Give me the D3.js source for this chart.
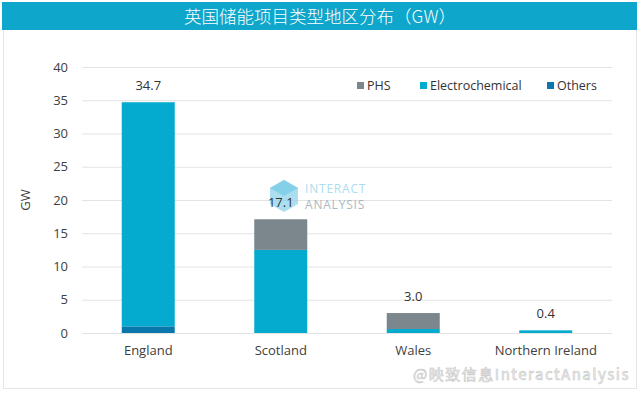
<!DOCTYPE html>
<html>
<head>
<meta charset="utf-8">
<script src="https://cdn.jsdelivr.net/npm/d3@7"></script>
<style>
  body { margin: 0; background: #fff; }
  svg { display: block; font-family: "Open Sans", "Noto Sans", sans-serif; }
</style>
</head>
<body>
<div id="chart"></div>
<script>
// Données
const regions = ['England', 'Scotland', 'Wales', 'Northern Ireland'];
const phs = [0, 4.6, 2.4, 0];
const electrochemical = [33.7, 12.5, 0.6, 0.4];
const others = [1.0, 0, 0, 0];
const totals = [34.7, 17.1, 3.0, 0.4];
const yTicks = [0, 5, 10, 15, 20, 25, 30, 35, 40];
const seriesNames = ['PHS', 'Electrochemical', 'Others'];
const colors = { PHS: '#7b868d', Electrochemical: '#05abcf', Others: '#0b78ad' };

const width = 640, height = 393;
const margin = { top: 67, right: 28, bottom: 60, left: 82 };

const svg = d3.select('#chart').append('svg')
    .attr('width', width)
    .attr('height', height);

// Cadre et bandeau de titre
svg.append('rect')
    .attr('x', 3.5).attr('y', 2.5)
    .attr('width', 633).attr('height', 386)
    .attr('fill', '#fff')
    .attr('stroke', '#e6e6e6');

svg.append('rect')
    .attr('x', 2).attr('y', 2)
    .attr('width', 635).attr('height', 28)
    .attr('fill', '#0ea6cb');

svg.append('text')
    .attr('x', 320).attr('y', 22.5)
    .attr('text-anchor', 'middle')
    .attr('fill', '#fff')
    .style('font-family', '"Noto Sans CJK SC", sans-serif')
    .style('font-size', '17.5px')
    .style('font-weight', 300)
    .text('英国储能项目类型地区分布（GW）');

const x = d3.scaleBand()
    .domain(regions)
    .range([margin.left, width - margin.right])
    .paddingInner(0.6)
    .paddingOuter(0.3);

const y = d3.scaleLinear()
    .domain([0, 40])
    .range([333, margin.top]);

// Grille
svg.append('g')
    .selectAll('line')
    .data(yTicks)
    .enter()
    .append('line')
    .attr('x1', margin.left)
    .attr('x2', width - margin.right)
    .attr('y1', d => y(d) + 0.5)
    .attr('y2', d => y(d) + 0.5)
    .attr('stroke', '#e3e3e3')
    .attr('stroke-width', 1);

// Axe Y
const yAxis = svg.append('g')
    .attr('transform', `translate(${margin.left},0)`)
    .call(d3.axisLeft(y).tickValues(yTicks).tickSize(0).tickPadding(14));
yAxis.select('.domain').remove();
yAxis.selectAll('text')
    .attr('fill', '#404040')
    .style('font-size', '13px')
    .style('font-family', '"Open Sans", sans-serif');

svg.append('text')
    .attr('transform', `translate(30,${y(20)}) rotate(-90)`)
    .attr('text-anchor', 'middle')
    .attr('fill', '#404040')
    .style('font-size', '13px')
    .text('GW');

// Axe X
const xAxis = svg.append('g')
    .attr('transform', `translate(0,${y(0)})`)
    .call(d3.axisBottom(x).tickSize(0).tickPadding(13));
xAxis.select('.domain').remove();
xAxis.selectAll('text')
    .attr('fill', '#404040')
    .style('font-size', '13px')
    .style('font-family', '"Open Sans", sans-serif');

// Empilement : Others en bas, puis Electrochemical, puis PHS
const table = regions.map((r, i) => ({
    region: r,
    PHS: phs[i],
    Electrochemical: electrochemical[i],
    Others: others[i]
}));
const stack = d3.stack().keys(['Others', 'Electrochemical', 'PHS']);
const layers = stack(table);

svg.append('g')
    .selectAll('g')
    .data(layers)
    .enter()
    .append('g')
    .attr('fill', d => colors[d.key])
    .selectAll('rect')
    .data(d => d)
    .enter()
    .append('rect')
    .attr('x', d => x(d.data.region))
    .attr('width', x.bandwidth())
    .attr('y', d => y(d[1]))
    .attr('height', d => y(d[0]) - y(d[1]));

// Filigrane Interact Analysis
const logo = svg.append('g').attr('transform', 'translate(284,196)').attr('opacity', 0.75);
logo.append('path')
    .attr('d', 'M0,-16 L14,-8 L14,8 L0,16 L-14,8 L-14,-8 Z')
    .attr('fill', '#8fd3ea');
logo.append('path')
    .attr('d', 'M-14,-8 L0,0 L14,-8 L0,-16 Z')
    .attr('fill', '#5cc1e2');
logo.append('text')
    .attr('x', 21).attr('y', -3)
    .attr('fill', '#8fd3ea')
    .style('font-size', '12px')
    .style('letter-spacing', '0.8px')
    .text('INTERACT');
logo.append('text')
    .attr('x', 21).attr('y', 13)
    .attr('fill', '#8ea2ad')
    .style('font-size', '12px')
    .style('letter-spacing', '0.8px')
    .text('ANALYSIS');

// Étiquettes de total
svg.append('g')
    .selectAll('text')
    .data(totals)
    .enter()
    .append('text')
    .attr('x', (d, i) => x(regions[i]) + x.bandwidth() / 2)
    .attr('y', d => y(d) - 12)
    .attr('text-anchor', 'middle')
    .attr('fill', '#333')
    .style('font-size', '13px')
    .text(d => d.toFixed(1));

// Légende
const legendX = [357, 420, 547];
const legend = svg.append('g')
    .selectAll('g')
    .data(seriesNames)
    .enter()
    .append('g')
    .attr('transform', (d, i) => `translate(${legendX[i]},86)`);
legend.append('rect')
    .attr('x', 0).attr('y', -4)
    .attr('width', 7).attr('height', 7)
    .attr('fill', d => colors[d]);
legend.append('text')
    .attr('x', 10).attr('y', 4)
    .attr('fill', '#333')
    .style('font-size', '12.5px')
    .text(d => d);

// Filigrane de la plateforme
svg.append('text')
    .attr('x', 630).attr('y', 380)
    .attr('text-anchor', 'end')
    .attr('fill', '#f4f4f4')
    .attr('stroke', '#c8c8c8')
    .attr('stroke-width', 0.6)
    .style('font-family', '"Noto Sans CJK SC", sans-serif')
    .style('font-size', '15px')
    .style('letter-spacing', '1.5px')
    .text('@映致信息InteractAnalysis');
</script>
</body>
</html>
